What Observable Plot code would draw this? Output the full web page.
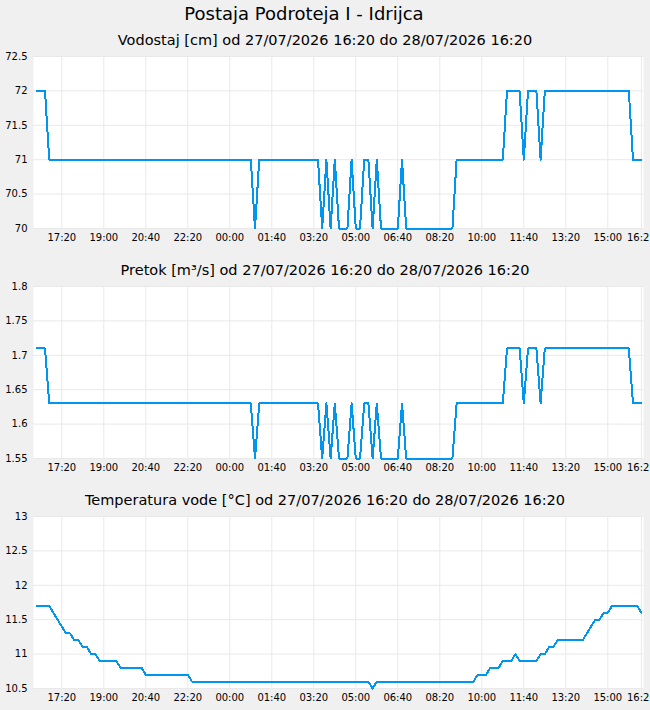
<!DOCTYPE html>
<html>
<head>
<meta charset="utf-8">
<script src="https://cdn.jsdelivr.net/npm/d3@7"></script>
<script src="https://cdn.jsdelivr.net/npm/@observablehq/plot@0.6"></script>
<style>
  html, body { margin: 0; padding: 0; background: #f0f0f0; }
  body { width: 650px; height: 710px; overflow: hidden; font-family: "DejaVu Sans", sans-serif; color: #000; }
  #title { height: 28px; line-height: 28px; font-size: 18px; text-align: center; padding-right: 42px; }
  .sub { height: 22px; line-height: 24px; font-size: 14.5px; text-align: center; white-space: nowrap; }
  svg { display: block; }
</style>
</head>
<body>
<div id="title">Postaja Podroteja I - Idrijca</div>
<div id="charts"></div>
<script>
// 10-minute readings from 27/07/2026 16:20 (UTC) to 28/07/2026 16:20
const startUTC = Date.UTC(2026, 6, 27, 16, 20);
const stepMinutes = 10;

const vodostaj = [
  72,72,72,71,71,71,71,71,71,71,
  71,71,71,71,71,71,71,71,71,71,
  71,71,71,71,71,71,71,71,71,71,
  71,71,71,71,71,71,71,71,71,71,
  71,71,71,71,71,71,71,71,71,71,
  71,71,70,71,71,71,71,71,71,71,
  71,71,71,71,71,71,71,71,70,71,
  70,71,70,70,70,71,70,70,71,71,
  70,71,70,70,70,70,70,71,70,70,
  70,70,70,70,70,70,70,70,70,70,
  71,71,71,71,71,71,71,71,71,71,
  71,71,72,72,72,72,71,72,72,72,
  71,72,72,72,72,72,72,72,72,72,
  72,72,72,72,72,72,72,72,72,72,
  72,72,71,71,71
];

const pretok = [
  1.71,1.71,1.71,1.63,1.63,1.63,1.63,1.63,1.63,1.63,
  1.63,1.63,1.63,1.63,1.63,1.63,1.63,1.63,1.63,1.63,
  1.63,1.63,1.63,1.63,1.63,1.63,1.63,1.63,1.63,1.63,
  1.63,1.63,1.63,1.63,1.63,1.63,1.63,1.63,1.63,1.63,
  1.63,1.63,1.63,1.63,1.63,1.63,1.63,1.63,1.63,1.63,
  1.63,1.63,1.55,1.63,1.63,1.63,1.63,1.63,1.63,1.63,
  1.63,1.63,1.63,1.63,1.63,1.63,1.63,1.63,1.55,1.63,
  1.55,1.63,1.55,1.55,1.55,1.63,1.55,1.55,1.63,1.63,
  1.55,1.63,1.55,1.55,1.55,1.55,1.55,1.63,1.55,1.55,
  1.55,1.55,1.55,1.55,1.55,1.55,1.55,1.55,1.55,1.55,
  1.63,1.63,1.63,1.63,1.63,1.63,1.63,1.63,1.63,1.63,
  1.63,1.63,1.71,1.71,1.71,1.71,1.63,1.71,1.71,1.71,
  1.63,1.71,1.71,1.71,1.71,1.71,1.71,1.71,1.71,1.71,
  1.71,1.71,1.71,1.71,1.71,1.71,1.71,1.71,1.71,1.71,
  1.71,1.71,1.63,1.63,1.63
];

const temperatura = [
  11.7,11.7,11.7,11.7,11.6,11.5,11.4,11.3,11.3,11.2,
  11.2,11.1,11.1,11.0,11.0,10.9,10.9,10.9,10.9,10.9,
  10.8,10.8,10.8,10.8,10.8,10.8,10.7,10.7,10.7,10.7,
  10.7,10.7,10.7,10.7,10.7,10.7,10.7,10.6,10.6,10.6,
  10.6,10.6,10.6,10.6,10.6,10.6,10.6,10.6,10.6,10.6,
  10.6,10.6,10.6,10.6,10.6,10.6,10.6,10.6,10.6,10.6,
  10.6,10.6,10.6,10.6,10.6,10.6,10.6,10.6,10.6,10.6,
  10.6,10.6,10.6,10.6,10.6,10.6,10.6,10.6,10.6,10.6,
  10.5,10.6,10.6,10.6,10.6,10.6,10.6,10.6,10.6,10.6,
  10.6,10.6,10.6,10.6,10.6,10.6,10.6,10.6,10.6,10.6,
  10.6,10.6,10.6,10.6,10.6,10.7,10.7,10.7,10.8,10.8,
  10.8,10.9,10.9,10.9,11.0,10.9,10.9,10.9,10.9,10.9,
  11.0,11.0,11.1,11.1,11.2,11.2,11.2,11.2,11.2,11.2,
  11.2,11.3,11.4,11.5,11.5,11.6,11.6,11.7,11.7,11.7,
  11.7,11.7,11.7,11.7,11.6
];

// x tick positions, minutes after 16:20
const xTickOffsets = [60, 160, 260, 360, 460, 560, 660, 760, 860, 960, 1060, 1160, 1260, 1360, 1440];

const vodostajTicks = [70, 70.5, 71, 71.5, 72, 72.5];
const pretokTicks = [1.55, 1.6, 1.65, 1.7, 1.75, 1.8];
const temperaturaTicks = [10.5, 11, 11.5, 12, 12.5, 13];

const subtitles = [
  "Vodostaj [cm] od 27/07/2026 16:20 do 28/07/2026 16:20",
  "Pretok [m³/s] od 27/07/2026 16:20 do 28/07/2026 16:20",
  "Temperatura vode [°C] od 27/07/2026 16:20 do 28/07/2026 16:20"
];

const MIN = 60000;
const toDate = m => new Date(startUTC + m * MIN);
const xTicks = xTickOffsets.map(toDate);
const xDomain = [toDate(-7.4), toDate(1440 + 5)];
const fmt = d3.utcFormat("%H:%M");

const panels = [
  {values: vodostaj, ticks: vodostajTicks},
  {values: pretok, ticks: pretokTicks},
  {values: temperatura, ticks: temperaturaTicks}
];

const container = document.getElementById("charts");
panels.forEach((p, k) => {
  const sub = document.createElement("div");
  sub.className = "sub";
  sub.textContent = subtitles[k];
  container.appendChild(sub);

  const data = p.values.map((v, i) => ({date: toDate(i * stepMinutes), value: v}));
  const yMin = p.ticks[0], yMax = p.ticks[p.ticks.length - 1];

  const chart = Plot.plot({
    width: 650,
    height: 208,
    marginTop: 6,
    marginBottom: 30,
    marginLeft: 33,
    marginRight: 7,
    style: {background: "transparent", fontFamily: "DejaVu Sans", fontSize: "10px", color: "#000"},
    x: {type: "utc", domain: xDomain},
    y: {domain: [yMin, yMax]},
    marks: [
      Plot.frame({fill: "white", stroke: null}),
      Plot.gridX(xTicks, {stroke: "#e9e9e9", strokeOpacity: 1}),
      Plot.gridY(p.ticks, {stroke: "#e9e9e9", strokeOpacity: 1}),
      Plot.axisX(xTicks, {tickSize: 0, tickPadding: 5, tickFormat: fmt, fontSize: 10, label: null}),
      Plot.axisY(p.ticks, {tickSize: 0, tickPadding: 6, tickFormat: d => String(d), fontSize: 10, label: null}),
      Plot.line(data, {x: "date", y: "value", stroke: "#0096f0", strokeWidth: 2, shapeRendering: "crispEdges"})
    ]
  });
  container.appendChild(chart);
});
</script>
</body>
</html>
